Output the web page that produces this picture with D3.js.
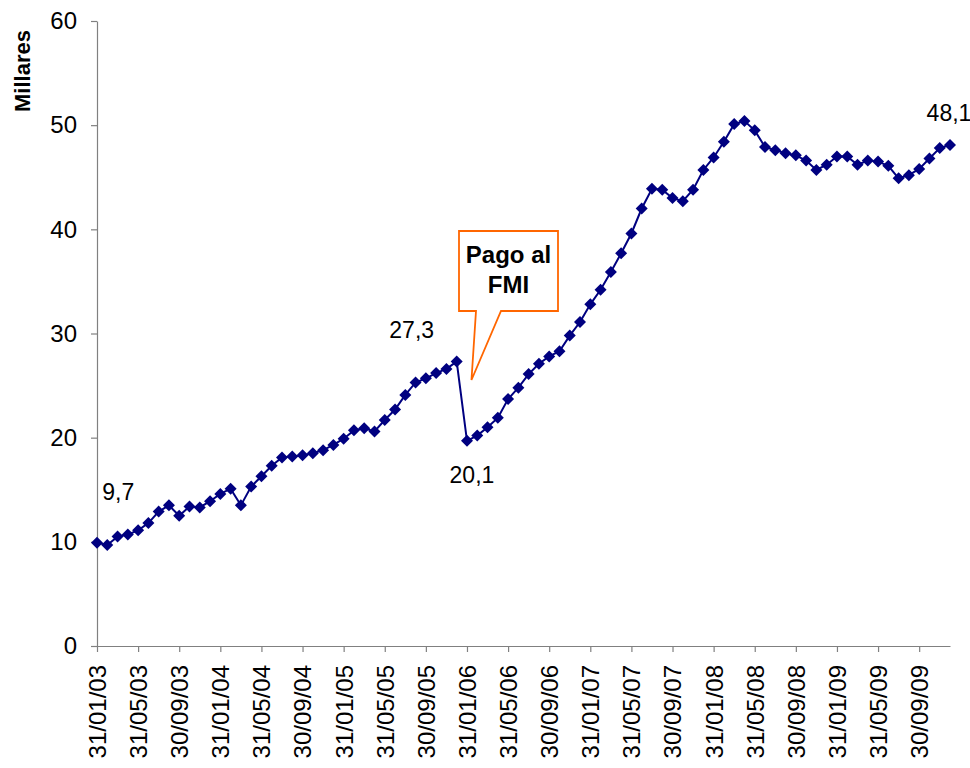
<!DOCTYPE html>
<html>
<head>
<meta charset="utf-8">
<script src="https://cdn.jsdelivr.net/npm/d3@7"></script>
<style>
  body { margin: 0; background: #fff; }
  svg { font-family: "Liberation Sans", Arial, sans-serif; }
</style>
</head>
<body>
<div id="chart"></div>
<script>
// monthly values, 31/01/03 .. 31/12/09 (miles de millones)
const reserves = [
    9.9, 9.7, 10.5, 10.7, 11.1, 11.8, 12.9, 13.5, 12.5, 13.4, 13.3, 13.9,
    14.6, 15.1, 13.5, 15.3, 16.3, 17.3, 18.1, 18.2, 18.3, 18.5, 18.8, 19.3,
    19.9, 20.7, 20.9, 20.6, 21.7, 22.7, 24.1, 25.3, 25.7, 26.2, 26.6, 27.3,
    19.7, 20.2, 21.0, 21.9, 23.7, 24.8, 26.1, 27.1, 27.8, 28.3, 29.8, 31.1,
    32.8, 34.2, 35.9, 37.7, 39.6, 42.0, 43.9, 43.8, 43.0, 42.7, 43.8, 45.7,
    46.9, 48.4, 50.1, 50.4, 49.5, 47.9, 47.6, 47.3, 47.1, 46.6, 45.7, 46.2,
    47.0, 47.0, 46.2, 46.6, 46.5, 46.1, 44.9, 45.2, 45.8, 46.8, 47.8, 48.1
];
const yTicks = [0, 10, 20, 30, 40, 50, 60];
const tickEvery = 4;

// value labels: index of the point and the text shown
const valueLabels = [
    {i: 1, text: "9,7"},
    {i: 35, text: "27,3"},
    {i: 36, text: "20,1"},
    {i: 83, text: "48,1"}
];
const labelOffsets = {1: [11, -45], 35: [-45, -24], 36: [5, 42], 83: [-1, -24]};

const calloutLines = ["Pago al", "FMI"];
const calloutIndex = 36;

// end-of-month dates for the category axis
const fmt = d3.utcFormat("%d/%m/%y");
const dates = d3.utcMonth.range(new Date(Date.UTC(2003, 1, 1)), new Date(Date.UTC(2010, 1, 1)))
    .map(d => d3.utcDay.offset(d, -1));

const WIDTH = 970;
const HEIGHT = 768;
const AXIS_COLOR = "#808080";
const LINE_COLOR = "#000080";

const svg = d3.select("#chart")
    .append("svg")
    .attr("width", WIDTH)
    .attr("height", HEIGHT);

svg.append("rect").attr("width", WIDTH).attr("height", HEIGHT).attr("fill", "#fff");

const x = d3.scaleLinear().domain([0, reserves.length - 1]).range([97, 950]);
const y = d3.scaleLinear().domain([0, 60]).range([646, 21]);

// y axis
const yAxis = svg.append("g")
    .attr("transform", `translate(${x(0)},0)`)
    .call(d3.axisLeft(y).tickValues(yTicks).tickSize(6).tickSizeOuter(0).tickPadding(14));
yAxis.selectAll("text").style("font-size", "24px").attr("fill", "#000");

// x axis
const xAxis = svg.append("g")
    .attr("transform", `translate(0,${y(0)})`)
    .call(d3.axisBottom(x)
        .tickValues(d3.range(0, reserves.length, tickEvery))
        .tickFormat(i => fmt(dates[i]))
        .tickSize(6)
        .tickSizeOuter(0));
xAxis.selectAll("text")
    .style("font-size", "24px")
    .attr("fill", "#000")
    .attr("x", -19)
    .attr("y", 0)
    .attr("dy", "0.35em")
    .attr("transform", "rotate(-90)")
    .style("text-anchor", "end");

svg.selectAll(".domain, .tick line").attr("stroke", AXIS_COLOR).attr("stroke-width", 1.2);

// axis title
svg.append("text")
    .attr("transform", "translate(30,71) rotate(-90)")
    .attr("text-anchor", "middle")
    .style("font-size", "22px")
    .style("font-weight", "bold")
    .text("Millares");

// series line
const line = d3.line()
    .x((d, i) => x(i))
    .y(d => y(d));

svg.append("path")
    .datum(reserves)
    .attr("fill", "none")
    .attr("stroke", LINE_COLOR)
    .attr("stroke-width", 2)
    .attr("d", line);

const diamond = d3.symbol().type(d3.symbolSquare).size(72);
svg.selectAll("path.marker")
    .data(reserves)
    .enter()
    .append("path")
    .attr("class", "marker")
    .attr("d", diamond)
    .attr("transform", (d, i) => `translate(${x(i)},${y(d)}) rotate(45)`)
    .attr("fill", LINE_COLOR);

// value labels
svg.selectAll("text.vlabel")
    .data(valueLabels)
    .enter()
    .append("text")
    .attr("class", "vlabel")
    .attr("x", d => x(d.i) + labelOffsets[d.i][0])
    .attr("y", d => y(reserves[d.i]) + labelOffsets[d.i][1])
    .attr("text-anchor", "middle")
    .style("font-size", "23px")
    .text(d => d.text);

// callout "Pago al FMI"
const bx0 = 459, bx1 = 558, by0 = 231, by1 = 311;
const tipX = x(calloutIndex) + 4.5, tipY = 380;
const calloutPath = [
    [bx0, by0], [bx1, by0], [bx1, by1], [501, by1],
    [tipX, tipY], [476, by1], [bx0, by1]
];
svg.append("path")
    .attr("d", d3.line()(calloutPath) + "Z")
    .attr("fill", "#fff")
    .attr("stroke", "#FF6600")
    .attr("stroke-width", 1.8);

svg.append("g")
    .selectAll("text")
    .data(calloutLines)
    .enter()
    .append("text")
    .attr("x", (bx0 + bx1) / 2)
    .attr("y", (d, i) => 263 + i * 30)
    .attr("text-anchor", "middle")
    .style("font-size", "24px")
    .style("font-weight", "bold")
    .text(d => d);
</script>
</body>
</html>
